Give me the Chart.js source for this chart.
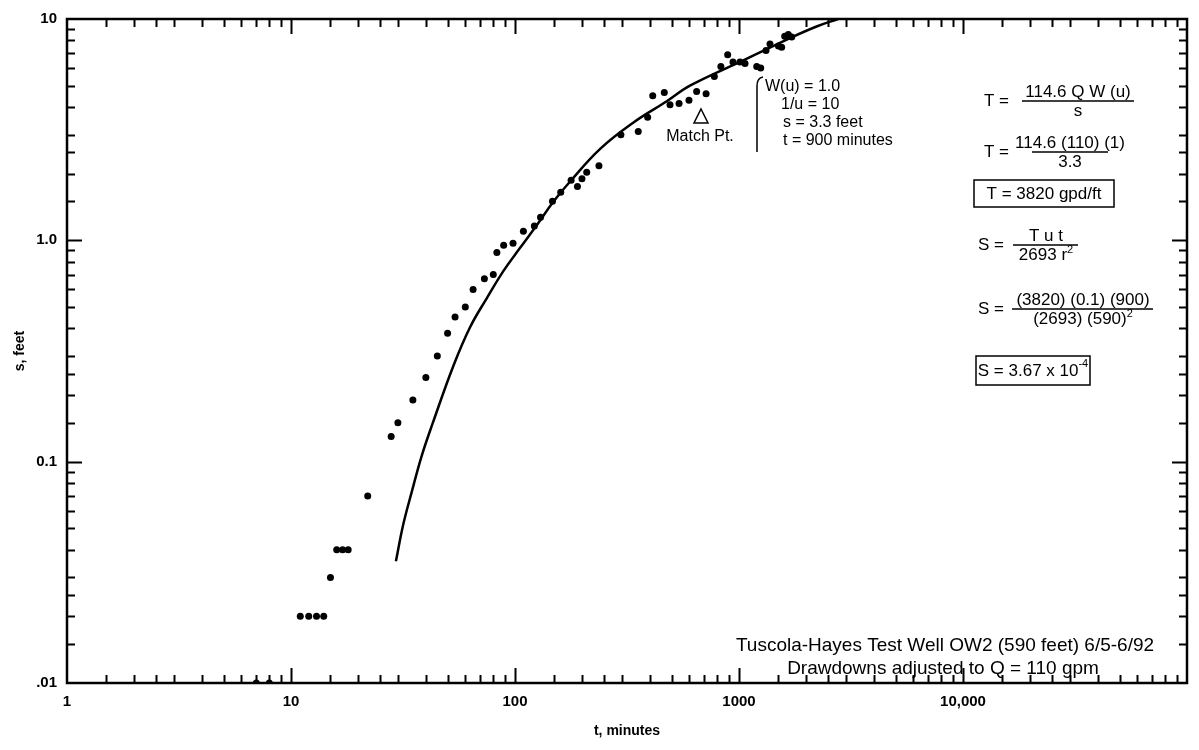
<!DOCTYPE html>
<html>
<head>
<meta charset="utf-8">
<title>Tuscola-Hayes Test Well OW2</title>
<script src="https://cdn.jsdelivr.net/npm/chart.js@4.4.1/dist/chart.umd.min.js"></script>
<style>
  html, body { margin: 0; padding: 0; background: #fff; }
  #wrap { width: 1199px; height: 750px; }
</style>
</head>
<body>
<div id="wrap"><canvas id="chart" width="1199" height="750"></canvas></div>
<script>
// axis ticks
const X_TICKS = [1, 10, 100, 1000, 10000, 100000];
const X_TICK_LABELS = ['1', '10', '100', '1000', '10,000', ''];
const Y_TICKS = [0.01, 0.1, 1, 10];
const Y_TICK_LABELS = ['.01', '0.1', '1.0', '10'];
const MINOR_STEPS = [1.5, 2, 2.5, 3, 4, 5, 6, 7, 8, 9];

// observed drawdowns (t minutes, s feet)
const OBS_T = [7, 8, 11, 12, 13, 14, 15, 16, 17, 18, 22, 28, 30, 35, 40, 45, 50, 54, 60, 65,
  73, 80, 83, 89, 98, 109, 122, 130, 147, 160, 178, 190, 199, 209, 237, 297, 355, 391, 412, 464,
  492, 540, 598, 647, 713, 776, 830, 890, 940, 1010, 1064, 1200, 1250, 1320, 1375, 1500, 1550,
  1600, 1660, 1720];
const OBS_S = [0.01, 0.01, 0.02, 0.02, 0.02, 0.02, 0.03, 0.04, 0.04, 0.04, 0.07, 0.13, 0.15, 0.19,
  0.24, 0.30, 0.38, 0.45, 0.50, 0.60, 0.67, 0.70, 0.88, 0.95, 0.97, 1.10, 1.16, 1.27, 1.5, 1.65,
  1.87, 1.75, 1.9, 2.03, 2.17, 3.0, 3.1, 3.6, 4.5, 4.65, 4.1, 4.15, 4.3, 4.7, 4.6, 5.5, 6.1, 6.9,
  6.4, 6.4, 6.3, 6.1, 6.0, 7.2, 7.7, 7.55, 7.45, 8.35, 8.5, 8.3];

// matched type curve
const CURVE_T = [29.4, 31.7, 34.6, 38.3, 43, 53, 63, 75, 89, 105, 125, 148, 175, 240, 337, 476,
  604, 1045, 1200, 1690, 2220, 2770];
const CURVE_S = [0.0355, 0.052, 0.073, 0.106, 0.15, 0.27, 0.405, 0.55, 0.73, 0.92, 1.17, 1.49,
  1.83, 2.59, 3.40, 4.25, 5.0, 6.5, 6.95, 8.2, 9.25, 10];

const FONT = "'Liberation Sans', Arial, Helvetica, sans-serif";

function toXY(xs, ys) {
  return xs.map(function (x, i) { return { x: x, y: ys[i] }; });
}

// draw a run of [text, superscript?] pieces, aligned on x
function drawRich(ctx, parts, x, y, size, align) {
  var w = 0;
  parts.forEach(function (p) {
    ctx.font = (p[1] ? Math.round(size * 0.65) : size) + 'px ' + FONT;
    w += ctx.measureText(p[0]).width;
  });
  var cx = align === 'center' ? x - w / 2 : (align === 'right' ? x - w : x);
  ctx.textAlign = 'left';
  parts.forEach(function (p) {
    ctx.font = (p[1] ? Math.round(size * 0.65) : size) + 'px ' + FONT;
    var ty = p[1] ? y - size * 0.42 : y;
    ctx.fillText(p[0], cx, ty);
    cx += ctx.measureText(p[0]).width;
  });
}

function fraction(ctx, lead, leadX, num, den, cx, lineY, x1, x2, size) {
  ctx.textBaseline = 'middle';
  drawRich(ctx, [[lead]], leadX, lineY, size, 'left');
  ctx.textBaseline = 'alphabetic';
  drawRich(ctx, num, cx, lineY - 4, size, 'center');
  ctx.beginPath();
  ctx.moveTo(x1, lineY);
  ctx.lineTo(x2, lineY);
  ctx.stroke();
  drawRich(ctx, den, cx, lineY + 15, size, 'center');
}

function drawFrame(chart) {
  var ctx = chart.ctx;
  var a = chart.chartArea;
  var xs = chart.scales.x, ys = chart.scales.y;
  ctx.save();
  ctx.setLineDash([]);
  ctx.strokeStyle = '#000';
  ctx.lineWidth = 2.5;
  ctx.strokeRect(a.left, a.top, a.right - a.left, a.bottom - a.top);
  ctx.lineWidth = 2;
  ctx.beginPath();
  var steps = [1].concat(MINOR_STEPS);
  X_TICKS.forEach(function (d) {
    steps.forEach(function (m) {
      var v = d * m;
      if (v <= 1 || v >= 100000) return;
      var px = Math.round(xs.getPixelForValue(v)) + 0.5;
      var len = m === 1 ? 15 : 8;
      ctx.moveTo(px, a.bottom); ctx.lineTo(px, a.bottom - len);
      ctx.moveTo(px, a.top); ctx.lineTo(px, a.top + len);
    });
  });
  Y_TICKS.forEach(function (d) {
    steps.forEach(function (m) {
      var v = d * m;
      if (v <= 0.01 || v >= 10) return;
      var py = Math.round(ys.getPixelForValue(v)) + 0.5;
      var len = m === 1 ? 15 : 8;
      ctx.moveTo(a.left, py); ctx.lineTo(a.left + len, py);
      ctx.moveTo(a.right, py); ctx.lineTo(a.right - len, py);
    });
  });
  ctx.stroke();
  ctx.restore();
}

function drawNotes(chart) {
  var ctx = chart.ctx;
  ctx.save();
  ctx.setLineDash([]);
  ctx.fillStyle = '#000';
  ctx.strokeStyle = '#000';
  ctx.lineWidth = 1.5;

  // match point block
  ctx.textBaseline = 'alphabetic';
  drawRich(ctx, [['W(u) = 1.0']], 765, 91, 16, 'left');
  drawRich(ctx, [['1/u = 10']], 781, 109, 16, 'left');
  drawRich(ctx, [['s = 3.3 feet']], 783, 127, 16, 'left');
  drawRich(ctx, [['t = 900 minutes']], 783, 145, 16, 'left');
  drawRich(ctx, [['Match Pt.']], 700, 141, 16, 'center');
  ctx.beginPath();
  ctx.moveTo(763, 77);
  ctx.quadraticCurveTo(757, 78, 757, 86);
  ctx.lineTo(757, 152);
  ctx.moveTo(701, 109);
  ctx.lineTo(708, 123);
  ctx.lineTo(694, 123);
  ctx.closePath();
  ctx.stroke();

  // transmissivity and storage
  var fs = 17;
  fraction(ctx, 'T =', 984, [['114.6 Q W (u)']], [['s']], 1078, 101, 1022, 1134, fs);
  fraction(ctx, 'T =', 984, [['114.6 (110) (1)']], [['3.3']], 1070, 152, 1032, 1108, fs);
  ctx.textBaseline = 'middle';
  drawRich(ctx, [['T = 3820 gpd/ft']], 1044, 194, fs, 'center');
  ctx.strokeRect(974, 180, 140, 27);
  fraction(ctx, 'S =', 978, [['T u t']], [['2693 r'], ['2', true]], 1046, 245, 1013, 1078, fs);
  fraction(ctx, 'S =', 978, [['(3820) (0.1) (900)']], [['(2693) (590)'], ['2', true]], 1083, 309, 1012, 1153, fs);
  ctx.textBaseline = 'middle';
  drawRich(ctx, [['S = 3.67 x 10'], ['-4', true]], 1033, 371, fs, 'center');
  ctx.strokeRect(976, 356, 114, 29);

  // well caption
  ctx.textBaseline = 'alphabetic';
  drawRich(ctx, [['Tuscola-Hayes Test Well OW2 (590 feet) 6/5-6/92']], 945, 651, 19, 'center');
  drawRich(ctx, [['Drawdowns adjusted to Q = 110 gpm']], 943, 674, 19, 'center');
  ctx.restore();
}

const overlay = {
  id: 'overlay',
  afterDraw: function (chart) {
    try { drawFrame(chart); } catch (e) { console.error(e); }
    try { drawNotes(chart); } catch (e) { console.error(e); }
  }
};

new Chart(document.getElementById('chart'), {
  type: 'scatter',
  data: {
    datasets: [
      {
        label: 'Observed',
        data: toXY(OBS_T, OBS_S),
        backgroundColor: '#000',
        borderWidth: 0,
        pointRadius: 3.5
      },
      {
        label: 'Type curve',
        data: toXY(CURVE_T, CURVE_S),
        showLine: true,
        borderColor: '#000',
        borderWidth: 2.5,
        pointRadius: 0,
        tension: 0.4
      }
    ]
  },
  options: {
    responsive: false,
    animation: false,
    events: [],
    layout: { padding: { top: 12, right: 12, left: 0, bottom: 0 } },
    plugins: { legend: { display: false }, tooltip: { enabled: false } },
    scales: {
      x: {
        type: 'logarithmic',
        min: 1,
        max: 100000,
        grid: { display: false, drawTicks: false },
        border: { display: false },
        afterBuildTicks: function (scale) {
          scale.ticks = X_TICKS.map(function (v) { return { value: v }; });
        },
        afterFit: function (scale) { scale.height = 67; },
        ticks: {
          autoSkip: false,
          maxRotation: 0,
          padding: 10,
          color: '#000',
          font: { family: FONT, size: 15, weight: 'bold' },
          callback: function (v, i) { return X_TICK_LABELS[i]; }
        },
        title: {
          display: true,
          text: 't, minutes',
          color: '#000',
          font: { family: FONT, size: 14, weight: 'bold' },
          padding: { top: 0, bottom: 10 }
        }
      },
      y: {
        type: 'logarithmic',
        min: 0.01,
        max: 10,
        grid: { display: false, drawTicks: false },
        border: { display: false },
        afterBuildTicks: function (scale) {
          scale.ticks = Y_TICKS.map(function (v) { return { value: v }; });
        },
        afterFit: function (scale) { scale.width = 67; },
        ticks: {
          autoSkip: false,
          padding: 10,
          color: '#000',
          font: { family: FONT, size: 15, weight: 'bold' },
          callback: function (v, i) { return Y_TICK_LABELS[i]; }
        },
        title: {
          display: true,
          text: 's, feet',
          color: '#000',
          font: { family: FONT, size: 14, weight: 'bold' },
          padding: { top: 12, bottom: 0 }
        }
      }
    }
  },
  plugins: [overlay]
});
</script>
</body>
</html>
